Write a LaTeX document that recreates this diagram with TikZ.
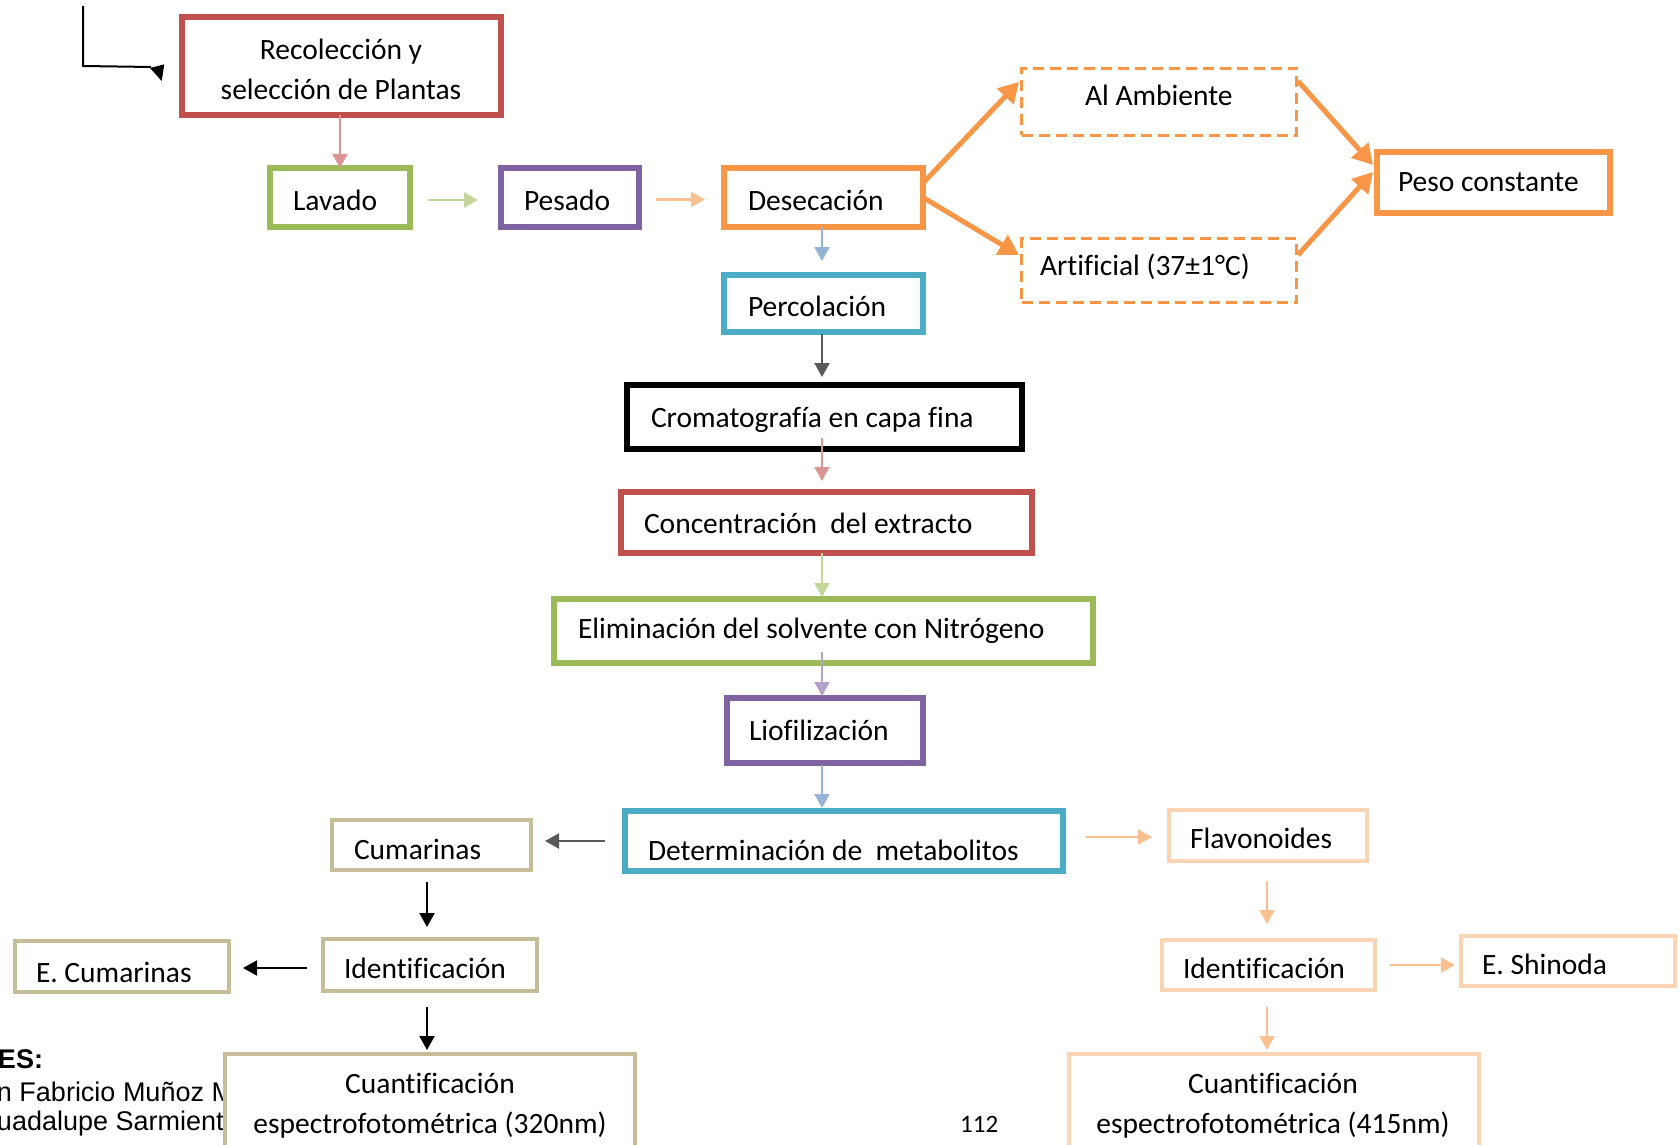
\documentclass[tikz,border=0pt]{standalone}
\usepackage{fontspec}
\setmainfont[Ligatures=NoCommon]{Carlito}
\newfontfamily\arialfont{Liberation Sans}
\usetikzlibrary{arrows.meta,calc}

\definecolor{cRed}{HTML}{C0504D}
\definecolor{cPink}{HTML}{D99694}
\definecolor{cGreen}{HTML}{9BBB59}
\definecolor{cLGreen}{HTML}{C3D69B}
\definecolor{cPurple}{HTML}{8064A2}
\definecolor{cLav}{HTML}{B3A2C7}
\definecolor{cOrange}{HTML}{F79646}
\definecolor{cLOrange}{HTML}{FAC090}
\definecolor{cBlue}{HTML}{4BACC6}
\definecolor{cLBlue}{HTML}{95B3D7}
\definecolor{cGray}{HTML}{595959}
\definecolor{cTan}{HTML}{C4BD97}
\definecolor{cPeach}{HTML}{FBD4B4}

\newcommand{\mainsz}{\fontsize{29.5}{35}\selectfont}

\tikzset{
  box/.style={draw=#1, line width=6pt, fill=white, inner sep=0pt, outer sep=0pt},
  thinbox/.style={draw=#1, line width=4pt, fill=white, inner sep=0pt, outer sep=0pt},
  dbox/.style={draw=cOrange, line width=2.8pt, dash pattern=on 11pt off 6pt,
               inner sep=0pt, outer sep=0pt},
  txt/.style={inner sep=0pt, outer sep=0pt, font=\mainsz, anchor=base west},
  ctxt/.style={inner sep=0pt, outer sep=0pt, font=\mainsz, anchor=base},
  side/.style={inner sep=0pt, outer sep=0pt, font=\arialfont\fontsize{27}{32}\selectfont,
               anchor=base west},
  arr/.style={draw=#1, line width=2.2pt, -{Triangle[width=15pt,length=14pt]}},
  oarr/.style={draw=cOrange, line width=5pt, -{Triangle[width=22pt,length=20pt]}},
}

\begin{document}
\begin{tikzpicture}[x=1pt, y=-1pt]
\clip (0,0) rectangle (1679,1145);
\fill[white] (0,0) rectangle (1679,1145);

% side text of the page, partly hidden behind the boxes
\node[side, font=\arialfont\bfseries\fontsize{27}{32}\selectfont] (s1) at (-2,1068) {ES:};
\node[side] (s2) at (-3,1101) {n Fabricio Muñoz M};
\node[side] (s3) at (-3,1130) {uadalupe Sarmient};
\node[inner sep=0pt, font=\fontsize{25}{30}\selectfont, anchor=base west] (pg) at (960,1132) {112};

% entry connector in the upper left corner
\coordinate (bt) at (83,6);
\coordinate (bc) at (83,66);
\coordinate (bh) at (151,67);
\draw[line width=2pt] (bt) -- (bc) -- (bh);
\fill (150,68) -- (164.3,64.3) -- (161.7,81) -- cycle;

% main chain
\node[box=cRed, minimum width=319pt, minimum height=98pt] (rec) at (341.5,66) {};
\node[box=cGreen, minimum width=140pt, minimum height=59pt] (lav) at (340,197.5) {};
\node[box=cPurple, minimum width=138pt, minimum height=59pt] (pes) at (570,197.5) {};
\node[box=cOrange, minimum width=199pt, minimum height=59pt] (des) at (823.5,197.5) {};
\node[dbox, minimum width=275pt, minimum height=67pt] (amb) at (1159,102) {};
\node[dbox, minimum width=275pt, minimum height=64pt] (art) at (1159,270.5) {};
\node[box=cOrange, minimum width=233pt, minimum height=61pt] (pc) at (1493.5,182.5) {};
\node[box=cBlue, minimum width=199pt, minimum height=57pt] (per) at (823.5,303.5) {};
\node[box=black, minimum width=395pt, minimum height=64pt] (cro) at (824.5,417) {};
\node[box=cRed, minimum width=411pt, minimum height=61pt] (con) at (826.5,522.5) {};
\node[box=cGreen, minimum width=539pt, minimum height=64pt] (eli) at (823.5,631) {};
\node[box=cPurple, minimum width=196pt, minimum height=65pt] (lio) at (825,730.5) {};
\node[box=cBlue, minimum width=438pt, minimum height=60pt] (det) at (844,841) {};

% coumarin branch
\node[thinbox=cTan, minimum width=199pt, minimum height=50pt] (cum) at (431.5,845) {};
\node[thinbox=cTan, minimum width=214pt, minimum height=52pt] (idl) at (430,965) {};
\node[thinbox=cTan, minimum width=214pt, minimum height=51pt] (ecu) at (122,966.5) {};
\node[thinbox=cTan, minimum width=410pt, minimum height=104pt] (cql) at (430,1106) {};

% flavonoid branch
\node[thinbox=cPeach, minimum width=198pt, minimum height=51pt] (fla) at (1268,835.5) {};
\node[thinbox=cPeach, minimum width=213pt, minimum height=50pt] (idr) at (1268.5,965) {};
\node[thinbox=cPeach, minimum width=214pt, minimum height=50pt] (esh) at (1568,961) {};
\node[thinbox=cPeach, minimum width=410pt, minimum height=104pt] (cqr) at (1274,1106) {};

% labels
\node[ctxt] (t-rec1) at (341,59.5) {Recolección y};
\node[ctxt] (t-rec2) at (341,100) {selección de Plantas};
\node[txt] (t-lav) at (293,211) {Lavado};
\node[txt] (t-pes) at (524,211) {Pesado};
\node[txt] (t-des) at (748,210) {Desecación};
\node[txt] (t-amb) at (1085,106) {Al Ambiente};
\node[txt] (t-art) at (1040,275) {Artificial (37±1°C)};
\node[txt] (t-pc) at (1398,192) {Peso constante};
\node[txt] (t-per) at (748,316) {Percolación};
\node[txt] (t-cro) at (651,427) {Cromatografía en capa fina};
\node[txt] (t-con) at (644,533) {Concentración~ del extracto};
\node[txt] (t-eli) at (578,638) {Eliminación del solvente con Nitrógeno};
\node[txt] (t-lio) at (749,740) {Liofilización};
\node[txt] (t-det) at (648,860) {Determinación de~ metabolitos};
\node[txt] (t-cum) at (354,859) {Cumarinas};
\node[txt] (t-idl) at (344,978) {Identificación};
\node[txt] (t-ecu) at (36,982) {E. Cumarinas};
\node[ctxt] (t-cql1) at (430,1093) {Cuantificación};
\node[ctxt] (t-cql2) at (430,1133) {espectrofotométrica (320nm)};
\node[txt] (t-fla) at (1190,848) {Flavonoides};
\node[txt] (t-idr) at (1183,978) {Identificación};
\node[txt] (t-esh) at (1482,974) {E. Shinoda};
\node[ctxt] (t-cqr1) at (1273,1093) {Cuantificación};
\node[ctxt] (t-cqr2) at (1273,1133) {espectrofotométrica (415nm)};

% connectors
\coordinate (sp) at (822,0);
\coordinate (lx) at (427,0);
\coordinate (rx) at (1267,0);

\draw[arr=cPink] (rec.south -| lav.north) -- (lav.north);
\draw[arr=cLGreen, shorten <=18pt, shorten >=23pt] ($(lav.east)+(0,2.5)$) -- ($(pes.west)+(0,2.5)$);
\draw[arr=cLOrange, shorten <=17pt, shorten >=19pt] ($(pes.east)+(0,2)$) -- ($(des.west)+(0,2)$);

\draw[oarr] ($(des.east)+(1,-15.5)$) -- ($(amb.west)+(-2.5,-20)$);
\draw[oarr] ($(des.east)+(1,0.5)$) -- ($(art.west)+(-2.5,-15.5)$);
\draw[oarr] ($(amb.east)+(1.5,-21)$) -- ($(pc.west)+(-4,-17.5)$);
\draw[oarr] ($(art.east)+(1.5,-15.5)$) -- ($(pc.west)+(-4,-10.5)$);

\draw[arr=cLBlue, shorten >=14pt] (des.south -| sp) -- (per.north -| sp);
\draw[arr=cGray, shorten <=2pt, shorten >=8pt] (per.south -| sp) -- (cro.north -| sp);
\draw[arr=cPink, shorten >=11pt] ($(cro.south -| sp)+(0,-11)$) -- (con.north -| sp);
\draw[arr=cLGreen, shorten >=2pt] (con.south -| sp) -- (eli.north -| sp);
\draw[arr=cLav, shorten >=2pt] ($(eli.south -| sp)+(0,-11)$) -- (lio.north -| sp);
\draw[arr=cLBlue, shorten <=2pt, shorten >=3pt] (lio.south -| sp) -- (det.north -| sp);

\draw[arr=cGray, shorten <=20pt, shorten >=14pt] (det.west) -- (det.west -| cum.east);
\draw[arr=cLOrange, shorten <=23pt, shorten >=17pt] ($(det.east)+(0,-4)$) -- ($(det.east -| fla.west)+(0,-4)$);

\draw[arr=black, shorten <=12pt, shorten >=12pt] (cum.south -| lx) -- (idl.north -| lx);
\draw[arr=black, shorten <=16pt, shorten >=14pt] ($(idl.west)+(0,3)$) -- ($(idl.west -| ecu.east)+(0,3)$);
\draw[arr=black, shorten <=16pt, shorten >=4pt] (idl.south -| lx) -- (cql.north -| lx);

\draw[arr=cLOrange, shorten <=20pt, shorten >=16pt] (fla.south -| rx) -- (idr.north -| rx);
\draw[arr=cLOrange, shorten <=15pt, shorten >=6pt] (idr.east) -- (idr.east -| esh.west);
\draw[arr=cLOrange, shorten <=17pt, shorten >=4pt] (idr.south -| rx) -- (cqr.north -| rx);
\end{tikzpicture}
\end{document}
